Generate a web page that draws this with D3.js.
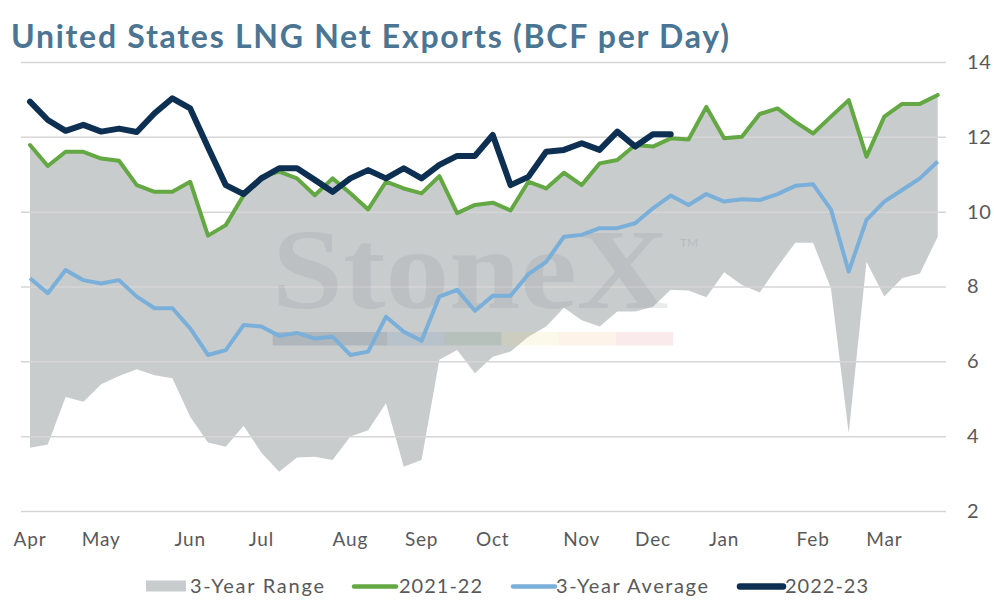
<!DOCTYPE html>
<html>
<head>
<meta charset="utf-8">
<script src="https://cdn.jsdelivr.net/npm/d3@7"></script>
<style>
  body { margin: 0; background: #fff; }
  svg { font-family: Lato, "Open Sans", sans-serif; }
</style>
</head>
<body>
<script>
// weekly data, Apr -> Mar (52 weeks)
const monthLabels = ['Apr', 'May', 'Jun', 'Jul', 'Aug', 'Sep', 'Oct', 'Nov', 'Dec', 'Jan', 'Feb', 'Mar'];
const monthWeek = [0, 4, 9, 13, 18, 22, 26, 31, 35, 39, 44, 48];
const yTicks = [2, 4, 6, 8, 10, 12, 14];

const rangeLow = [3.69, 3.78, 5.05, 4.92, 5.39, 5.61, 5.79, 5.63, 5.55, 4.52, 3.83, 3.72, 4.28, 3.56, 3.05, 3.43,
  3.45, 3.36, 3.99, 4.16, 4.88, 3.18, 3.36, 6.04, 6.30, 5.68, 6.12, 6.26, 6.66, 6.93, 7.43, 7.10,
  6.93, 7.33, 7.33, 7.46, 7.91, 7.89, 7.71, 8.38, 8.04, 7.84, 8.53, 9.17, 9.17, 7.95, 4.08, 8.66,
  7.73, 8.22, 8.35, 9.33];
const rangeHigh = [11.78, 11.22, 11.60, 11.60, 11.42, 11.36, 10.71, 10.53, 10.53, 10.80, 9.36, 9.64, 10.44, 10.93, 11.07, 10.89,
  10.44, 10.89, 10.49, 10.06, 10.80, 10.62, 10.49, 10.95, 9.96, 10.18, 10.24, 10.03, 10.80, 10.62, 11.04, 10.71,
  11.29, 11.38, 11.78, 11.74, 11.96, 11.93, 12.80, 11.96, 12.00, 12.61, 12.76, 12.40, 12.09, 12.54, 12.98, 11.47,
  12.54, 12.88, 12.88, 13.12];
const avg3yr = [8.22, 7.82, 8.44, 8.17, 8.08, 8.17, 7.73, 7.42, 7.42, 6.88, 6.17, 6.30, 6.97, 6.93, 6.68, 6.76,
  6.61, 6.66, 6.17, 6.26, 7.19, 6.79, 6.55, 7.73, 7.91, 7.35, 7.75, 7.75, 8.33, 8.66, 9.33, 9.38,
  9.56, 9.56, 9.69, 10.09, 10.43, 10.18, 10.47, 10.27, 10.33, 10.31, 10.47, 10.69, 10.73, 10.06, 8.40, 9.78,
  10.27, 10.58, 10.89, 11.34];
const y2021_22 = [11.78, 11.22, 11.60, 11.60, 11.42, 11.36, 10.71, 10.53, 10.53, 10.80, 9.36, 9.64, 10.44, 10.93, 11.07, 10.89,
  10.44, 10.89, 10.49, 10.06, 10.80, 10.62, 10.49, 10.95, 9.96, 10.18, 10.24, 10.03, 10.80, 10.62, 11.04, 10.71,
  11.29, 11.38, 11.78, 11.74, 11.96, 11.93, 12.80, 11.96, 12.00, 12.61, 12.76, 12.40, 12.09, 12.54, 12.98, 11.47,
  12.54, 12.88, 12.88, 13.12];
const y2022_23 = [12.94, 12.45, 12.16, 12.32, 12.14, 12.22, 12.13, 12.63, 13.03, 12.76, 11.72, 10.71, 10.47, 10.89, 11.16, 11.16,
  10.85, 10.53, 10.89, 11.11, 10.89, 11.16, 10.89, 11.25, 11.49, 11.49, 12.05, 10.71, 10.93, 11.60, 11.65, 11.83,
  11.65, 12.14, 11.74, 12.07, 12.07];

const width = 994;
const height = 606;

const svg = d3.select('body')
  .append('svg')
  .attr('width', width)
  .attr('height', height);

const x = d3.scaleLinear().domain([0, 51]).range([30, 937.7]);
const y = d3.scaleLinear().domain([2, 14]).range([511, 62]);

const textColor = '#595959';

// Title
svg.append('text')
  .attr('x', 11)
  .attr('y', 48)
  .attr('font-size', '32px')
  .attr('font-weight', 'bold')
  .attr('fill', '#4b7592')
  .attr('textLength', 718)
  .attr('lengthAdjust', 'spacing')
  .text('United States LNG Net Exports (BCF per Day)');

// 3-year range band
const area = d3.area()
  .x((d, i) => x(i))
  .y0((d, i) => y(rangeLow[i]))
  .y1((d, i) => y(rangeHigh[i]));

svg.append('path')
  .datum(rangeLow)
  .attr('d', area)
  .attr('fill', '#b2b6b8')
  .attr('fill-opacity', 0.7);

// Grid + right axis
const yAxis = svg.append('g')
  .attr('transform', 'translate(946,0)')
  .call(d3.axisRight(y).tickValues(yTicks).tickSize(-925).tickPadding(21));
yAxis.select('.domain').remove();
yAxis.selectAll('.tick line').attr('stroke', '#d6d6d6').attr('stroke-width', 1.5);
yAxis.selectAll('.tick text')
  .attr('fill', textColor)
  .attr('font-size', '20px')
  .style('font-family', 'Lato, sans-serif')
  .style('letter-spacing', '0.6px');

// Watermark
const wm = svg.append('g');
wm.append('text')
  .attr('x', 272)
  .attr('y', 308)
  .style('font-family', '"Liberation Serif", "DejaVu Serif", serif')
  .attr('font-weight', 'bold')
  .attr('font-size', '114px')
  .attr('textLength', 397)
  .attr('lengthAdjust', 'spacingAndGlyphs')
  .attr('fill', '#7d878c')
  .attr('fill-opacity', 0.17)
  .text('StoneX');
wm.append('text')
  .attr('x', 680)
  .attr('y', 247)
  .attr('font-size', '12px')
  .attr('fill', '#7d878c')
  .attr('fill-opacity', 0.25)
  .text('TM');
const barColors = ['#0b2e50', '#0b2e50', '#3f86bd', '#3c7d50', '#e2d85a', '#f0a64a', '#d9606c'];
wm.selectAll('rect')
  .data(barColors)
  .join('rect')
  .attr('x', (d, i) => 272.7 + i * 57.2)
  .attr('y', 332)
  .attr('width', 57.2)
  .attr('height', 13.5)
  .attr('fill', d => d)
  .attr('fill-opacity', 0.13);

// Lines
const line = d3.line()
  .x((d, i) => x(i))
  .y(d => y(d));

svg.append('path')
  .datum(avg3yr)
  .attr('d', line)
  .attr('fill', 'none')
  .attr('stroke', '#7aafd9')
  .attr('stroke-width', 4)
  .attr('stroke-linejoin', 'round');

svg.append('path')
  .datum(y2021_22)
  .attr('d', line)
  .attr('fill', 'none')
  .attr('stroke', '#63a843')
  .attr('stroke-width', 4)
  .attr('stroke-linejoin', 'round')
  .attr('stroke-linecap', 'round');

svg.append('path')
  .datum(y2022_23)
  .attr('d', line)
  .attr('fill', 'none')
  .attr('stroke', '#0c2f52')
  .attr('stroke-width', 6)
  .attr('stroke-linejoin', 'round')
  .attr('stroke-linecap', 'round');

// Month labels
svg.append('g')
  .selectAll('text')
  .data(monthLabels)
  .join('text')
  .attr('x', (d, i) => x(monthWeek[i]))
  .attr('y', 546)
  .attr('text-anchor', 'middle')
  .attr('font-size', '19px')
  .style('letter-spacing', '0.8px')
  .attr('fill', textColor)
  .text(d => d);

// Legend
const legend = svg.append('g').attr('transform', 'translate(0,586)');
legend.append('rect')
  .attr('x', 146).attr('y', -5.5).attr('width', 40).attr('height', 11)
  .attr('fill', '#c9cccd');

const legItems = [
  { label: '3-Year Range', tx: 190, w: 134 },
  { x1: 354, x2: 396, color: '#63a843', sw: 4.5, label: '2021-22', tx: 399, w: 83 },
  { x1: 513, x2: 555, color: '#7aafd9', sw: 4.5, label: '3-Year Average', tx: 556, w: 152 },
  { x1: 740, x2: 783, color: '#0c2f52', sw: 6.5, label: '2022-23', tx: 785, w: 83 }
];
legItems.forEach(l => {
  if (l.color) {
    legend.append('line')
      .attr('x1', l.x1).attr('x2', l.x2).attr('y1', 0.5).attr('y2', 0.5)
      .attr('stroke', l.color).attr('stroke-width', l.sw).attr('stroke-linecap', 'round');
  }
  legend.append('text')
    .attr('x', l.tx).attr('y', 7)
    .attr('font-size', '20px')
    .attr('textLength', l.w)
    .attr('lengthAdjust', 'spacing')
    .attr('fill', textColor)
    .text(l.label);
});
</script>
</body>
</html>
